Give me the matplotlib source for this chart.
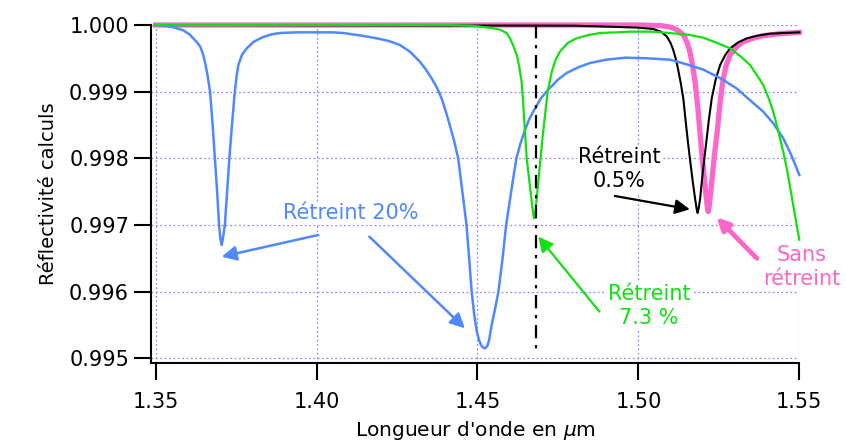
import matplotlib
matplotlib.use("Agg")
import matplotlib.pyplot as plt

# Réflectivité calculée
# Rétreint 20 % (bleu)
x_20 = [1.3500, 1.3530, 1.3560, 1.3586, 1.3605, 1.3617, 1.3628, 1.3638, 1.3646,
        1.3653, 1.3661, 1.3669, 1.3677, 1.3684, 1.3691, 1.3697, 1.3701, 1.3705,
        1.3709, 1.3715, 1.3722, 1.3729, 1.3737, 1.3746, 1.3752, 1.3757, 1.3768,
        1.3783, 1.3805, 1.3834, 1.3860, 1.3886, 1.3940, 1.4000, 1.4050, 1.4083,
        1.4140, 1.4187, 1.4225, 1.4259, 1.4290, 1.4321, 1.4340, 1.4360, 1.4375,
        1.4390, 1.4403, 1.4415, 1.4428, 1.4440, 1.4453, 1.4466, 1.4474, 1.4482,
        1.4490, 1.4498, 1.4505, 1.4512, 1.4518, 1.4523, 1.4530, 1.4536, 1.4544,
        1.4555, 1.4565, 1.4578, 1.4589, 1.4600, 1.4611, 1.4621, 1.4634, 1.4648,
        1.4660, 1.4673, 1.4697, 1.4720, 1.4750, 1.4777, 1.4815, 1.4850, 1.4900,
        1.4960, 1.5030, 1.5098, 1.5150, 1.5202, 1.5255, 1.5305, 1.5345, 1.5388,
        1.5420, 1.5450, 1.5475, 1.5500]
r_20 = [1.00000, 0.99999, 0.99996, 0.99992, 0.99986, 0.99980, 0.99974, 0.99968, 0.99958,
        0.99945, 0.99925, 0.99900, 0.99850, 0.99800, 0.99750, 0.99700, 0.99680, 0.99670,
        0.99680, 0.99700, 0.99750, 0.99800, 0.99850, 0.99900, 0.99925, 0.99940, 0.99955,
        0.99965, 0.99975, 0.99982, 0.99986, 0.99988, 0.99989, 0.99989, 0.99989, 0.99988,
        0.99984, 0.99980, 0.99976, 0.99970, 0.99960, 0.99945, 0.99933, 0.99918, 0.99905,
        0.99888, 0.99868, 0.99848, 0.99825, 0.99800, 0.99750, 0.99700, 0.99650, 0.99600,
        0.99565, 0.99540, 0.99527, 0.99519, 0.99516, 0.99515, 0.99518, 0.99527, 0.99550,
        0.99575, 0.99600, 0.99650, 0.99700, 0.99735, 0.99770, 0.99800, 0.99823, 0.99843,
        0.99858, 0.99870, 0.99890, 0.99903, 0.99918, 0.99928, 0.99937, 0.99943, 0.99948,
        0.99951, 0.99950, 0.99948, 0.99941, 0.99933, 0.99920, 0.99905, 0.99888, 0.99870,
        0.99852, 0.99830, 0.99805, 0.99775]

# Rétreint 7.3 % (vert)
x_73 = [1.3500, 1.4400, 1.4480, 1.4518, 1.4550, 1.4570, 1.4590, 1.4601, 1.4612,
        1.4622, 1.4630, 1.4637, 1.4641, 1.4645, 1.4649, 1.4653, 1.4659, 1.4665,
        1.4671, 1.4674, 1.4676, 1.4678, 1.4681, 1.4686, 1.4691, 1.4696, 1.4703,
        1.4710, 1.4718, 1.4731, 1.4743, 1.4756, 1.4780, 1.4808, 1.4845, 1.4881,
        1.4930, 1.4974, 1.5040, 1.5098, 1.5160, 1.5202, 1.5245, 1.5285, 1.5320,
        1.5347, 1.5368, 1.5388, 1.5405, 1.5419, 1.5430, 1.5440, 1.5451, 1.5461,
        1.5471, 1.5481, 1.5492, 1.5500]
r_73 = [1.00000, 1.00000, 0.99999, 0.99997, 0.99995, 0.99993, 0.99988, 0.99980, 0.99968,
        0.99955, 0.99937, 0.99915, 0.99890, 0.99858, 0.99830, 0.99800, 0.99775, 0.99750,
        0.99725, 0.99714, 0.99710, 0.99714, 0.99725, 0.99750, 0.99775, 0.99800, 0.99835,
        0.99865, 0.99900, 0.99930, 0.99948, 0.99960, 0.99973, 0.99980, 0.99985, 0.99988,
        0.99989, 0.99990, 0.99990, 0.99988, 0.99985, 0.99981, 0.99973, 0.99965, 0.99952,
        0.99940, 0.99925, 0.99910, 0.99890, 0.99870, 0.99850, 0.99830, 0.99808, 0.99785,
        0.99758, 0.99730, 0.99700, 0.99678]

# Rétreint 0.5 % (noir)
x_05 = [1.3500, 1.4800, 1.4943, 1.5000, 1.5046, 1.5070, 1.5088, 1.5100, 1.5108,
        1.5117, 1.5124, 1.5132, 1.5140, 1.5147, 1.5155, 1.5162, 1.5169, 1.5176,
        1.5181, 1.5184, 1.5187, 1.5192, 1.5197, 1.5203, 1.5210, 1.5219, 1.5228,
        1.5240, 1.5254, 1.5270, 1.5285, 1.5310, 1.5337, 1.5370, 1.5409, 1.5450,
        1.5500]
r_05 = [1.00000, 0.99999, 0.99997, 0.99996, 0.99994, 0.99990, 0.99983, 0.99973, 0.99963,
        0.99948, 0.99932, 0.99912, 0.99888, 0.99855, 0.99820, 0.99792, 0.99765, 0.99740,
        0.99724, 0.99718, 0.99724, 0.99740, 0.99765, 0.99792, 0.99820, 0.99858, 0.99890,
        0.99918, 0.99940, 0.99955, 0.99965, 0.99974, 0.99980, 0.99984, 0.99987, 0.99988,
        0.99989]

# Sans rétreint (rose)
x_0 = [1.3500, 1.5000, 1.5070, 1.5098, 1.5120, 1.5140, 1.5151, 1.5160, 1.5168,
       1.5176, 1.5184, 1.5191, 1.5197, 1.5204, 1.5210, 1.5214, 1.5217, 1.5220,
       1.5224, 1.5230, 1.5237, 1.5245, 1.5253, 1.5262, 1.5272, 1.5285, 1.5305,
       1.5326, 1.5355, 1.5388, 1.5440, 1.5500]
r_0 = [1.00000, 1.00000, 0.99999, 0.99997, 0.99993, 0.99985, 0.99974, 0.99960, 0.99940,
       0.99915, 0.99880, 0.99840, 0.99808, 0.99775, 0.99745, 0.99728, 0.99720, 0.99728,
       0.99745, 0.99775, 0.99808, 0.99840, 0.99880, 0.99915, 0.99938, 0.99955, 0.99967,
       0.99975, 0.99980, 0.99984, 0.99987, 0.99989]

x_ligne = 1.4681  # trait mixte vertical

x_ticks = [1.35, 1.40, 1.45, 1.50, 1.55]
y_ticks = [0.995, 0.996, 0.997, 0.998, 0.999, 1.000]

bleu = "#4f88ff"
vert = "#11e011"
rose = "#ff66cc"

plt.rcParams["font.family"] = "DejaVu Sans"

fig = plt.figure(figsize=(8.46, 4.45), dpi=100)
ax = fig.add_axes([0.1788, 0.1843, 0.766, 0.7595])

ax.plot(x_0, r_0, color=rose, lw=3.8, zorder=3, clip_on=False)
ax.plot(x_05, r_05, color="black", lw=1.5, zorder=4, clip_on=False)
ax.plot(x_20, r_20, color=bleu, lw=1.8, zorder=5, clip_on=False)
ax.plot(x_73, r_73, color=vert, lw=1.6, zorder=6, clip_on=False)
ax.plot([x_ligne, x_ligne], [1.0, 0.99505], color="black", lw=1.6,
        dashes=[6, 3, 1.5, 3], zorder=7)

ax.set_xlim(1.34863, 1.55)
ax.set_ylim(0.99493, 1.0)
ax.set_xticks(x_ticks)
ax.set_xticklabels(["%.2f" % v for v in x_ticks])
ax.set_yticks(y_ticks)
ax.set_yticklabels(["%.3f" % v for v in y_ticks])

ax.grid(True, color="#8c8cff", linestyle=(0, (1.5, 2)), lw=0.9)
ax.set_axisbelow(True)
for s in ["top", "right"]:
    ax.spines[s].set_visible(False)
for s in ["left", "bottom"]:
    ax.spines[s].set_linewidth(1.5)
ax.tick_params(axis="both", direction="out", length=12, width=1.5, labelsize=15)
ax.tick_params(axis="x", pad=9)
ax.tick_params(axis="y", pad=4)

ax.set_ylabel("Réflectivité calculs", fontsize=14, labelpad=8)
ax.set_xlabel("Longueur d'onde en $\\mu$m", fontsize=14.5, labelpad=5)

boite = dict(facecolor="white", edgecolor="none", pad=1)

# annotations
ax.text(1.4105, 0.997175, "Rétreint 20%", color=bleu, fontsize=15,
        ha="center", va="center", bbox=boite, zorder=8)
ax.annotate("", xy=(1.3705, 0.996525), xytext=(1.4005, 0.99685),
            arrowprops=dict(arrowstyle="-|>", color=bleu, lw=1.8, mutation_scale=22,
                            shrinkA=0, shrinkB=0), zorder=8)
ax.annotate("", xy=(1.4461, 0.99545), xytext=(1.4164, 0.996825),
            arrowprops=dict(arrowstyle="-|>", color=bleu, lw=1.8, mutation_scale=22,
                            shrinkA=0, shrinkB=0), zorder=8)

ax.text(1.4941, 0.99784, "Rétreint\n0.5%", color="black", fontsize=15,
        ha="center", va="center", linespacing=1.3, bbox=boite, zorder=8)
ax.annotate("", xy=(1.5160, 0.997235), xytext=(1.4927, 0.997435),
            arrowprops=dict(arrowstyle="-|>", color="black", lw=1.6, mutation_scale=22,
                            shrinkA=0, shrinkB=0), zorder=8)

ax.text(1.5033, 0.995785, "Rétreint\n7.3 %", color=vert, fontsize=15,
        ha="center", va="center", linespacing=1.25, bbox=boite, zorder=8)
ax.annotate("", xy=(1.4689, 0.996825), xytext=(1.4879, 0.9957),
            arrowprops=dict(arrowstyle="-|>", color=vert, lw=1.6, mutation_scale=22,
                            shrinkA=0, shrinkB=0), zorder=8)

ax.text(1.5508, 0.99637, "Sans\nrétreint", color=rose, fontsize=15,
        ha="center", va="center", linespacing=1.3, bbox=boite, zorder=8)
ax.annotate("", xy=(1.5243, 0.997115), xytext=(1.5368, 0.9965),
            arrowprops=dict(arrowstyle="-|>", color=rose, lw=3.5, mutation_scale=18,
                            shrinkA=0, shrinkB=0), zorder=8)

fig.savefig("out.png", dpi=100)
